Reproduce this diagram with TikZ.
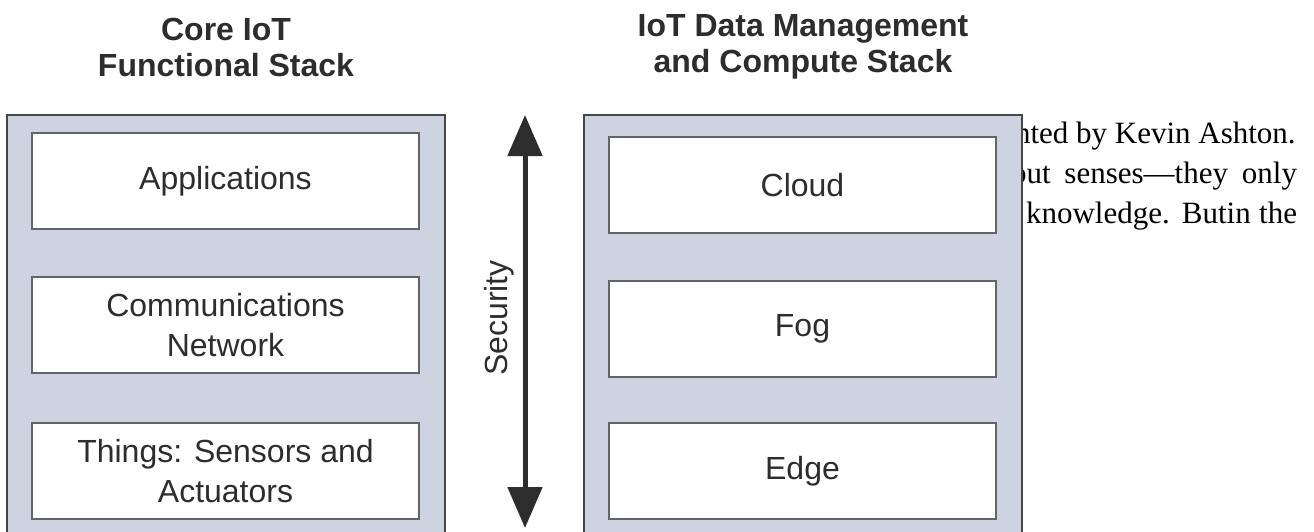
\documentclass[tikz,border=0pt]{standalone}
\usepackage{fontspec}
\setmainfont{Liberation Sans}
\newfontfamily\bookfont{Liberation Serif}
\usetikzlibrary{arrows.meta}

\definecolor{stackfill}{RGB}{205,211,224}
\definecolor{stackline}{RGB}{70,70,72}
\definecolor{layerline}{RGB}{100,100,104}
\definecolor{inkgray}{RGB}{45,45,45}

\begin{document}
\begin{tikzpicture}[x=1pt, y=-1pt, inner sep=0pt, >={Triangle[length=41pt,width=34pt]},
    title/.style={font=\bfseries\fontsize{32}{36}\selectfont, text=inkgray, align=center},
    stackback/.style={draw=stackline, fill=stackfill, line width=2pt, minimum width=438pt, minimum height=440pt, anchor=north west},
    layer/.style={draw=layerline, fill=white, line width=2pt, minimum width=387pt, minimum height=96pt, anchor=north west, align=center, text=inkgray, font=\fontsize{32}{40}\selectfont},
    booktext/.style={font=\bookfont\fontsize{31}{40}\selectfont, anchor=base west}]

    \tikzstyle{every node}=[outer sep=0pt]

    \useasboundingbox (0,0) rectangle (1314,532);
    \clip (0,0) rectangle (1314,532);
    \fill[white] (0,0) rectangle (1314,532);

    % text of the page, partly under the right stack
    \node[booktext] (line1) at (1015,143) {nted by Kevin Ashton.};
    \node[booktext] (line2) at (1011,183) {\makebox[286pt][s]{but senses—they only}};
    \node[booktext] (line3) at (1026,223) {\makebox[271pt][s]{knowledge. Butin the}};

    \node[title] (coretitle) at (226,47) {Core IoT\\Functional Stack};
    \node[title] (datatitle) at (803,47) {IoT Data Management\\and Compute Stack};

    \node[stackback] (corestack) at (7,115) {};
    \node[stackback] (datastack) at (584,115) {};

    \node[layer] (apps)   at (32,133) {Applications};
    \node[layer] (comms)  at (32,277) {Communications\\Network};
    \node[layer] (things) at (32,423) {Things: Sensors and\\Actuators};

    \node[layer] (cloud) at (609,137) {Cloud};
    \node[layer] (fog)   at (609,281) {Fog};
    \node[layer] (edge)  at (609,423) {Edge};

    \coordinate (sectop) at (525,115);
    \coordinate (secbot) at (525,528);
    \draw[<->, line width=5pt, draw=inkgray, fill=inkgray] (sectop) -- (secbot);
    \node[rotate=90, text=inkgray, font=\fontsize{32}{40}\selectfont] (seclabel) at (499,318) {Security};
\end{tikzpicture}
\end{document}
